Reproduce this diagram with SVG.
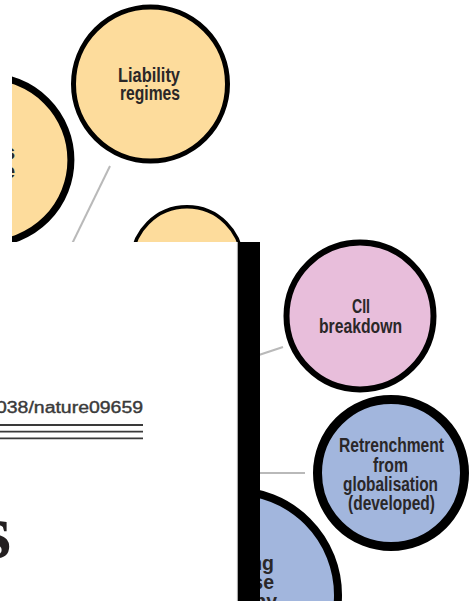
<svg xmlns="http://www.w3.org/2000/svg" width="471" height="601" viewBox="0 0 471 601">
<defs>
<clipPath id="diagClip"><rect x="12" y="0" width="459" height="601"/></clipPath>
<style>
.lbl{font-family:"Liberation Sans",Arial,sans-serif;font-size:19.5px;font-weight:bold;fill:#2a2728}
.yellow{fill:#fddc9c;stroke:#000}
.pink{fill:#e8bedb;stroke:#000}
.blue{fill:#a2b6dd;stroke:#000}
.conn{stroke:#b9b9b9;stroke-width:2;fill:none}
.rule{stroke:#3a3a3a;stroke-width:1.8}
</style>
</defs>
<rect width="471" height="601" fill="#fff"/>
<g clip-path="url(#diagClip)">
  <g id="connectors">
    <line class="conn" x1="110" y1="166" x2="69" y2="250"/>
    <line class="conn" x1="250" y1="358" x2="283" y2="347"/>
    <line class="conn" x1="250" y1="473" x2="305" y2="473"/>
  </g>
  <g id="node-left-large">
    <circle class="yellow" cx="-12.6" cy="160" r="83.5" stroke-width="7"/>
    <text class="lbl" x="15" y="159" text-anchor="end">s</text>
    <text class="lbl" x="15" y="178" text-anchor="end">e</text>
  </g>
  <g id="node-liability">
    <circle class="yellow" cx="150.5" cy="84" r="77" stroke-width="5"/>
    <text class="lbl" x="118" y="82" textLength="62" lengthAdjust="spacingAndGlyphs">Liability</text>
    <text class="lbl" x="120" y="100" textLength="60" lengthAdjust="spacingAndGlyphs">regimes</text>
  </g>
  <g id="node-yellow-small">
    <circle class="yellow" cx="187" cy="262" r="55.2" stroke-width="3.5"/>
  </g>
  <g id="node-cii">
    <circle class="pink" cx="360" cy="316" r="73.5" stroke-width="6"/>
    <text class="lbl" x="352" y="313" textLength="18" lengthAdjust="spacingAndGlyphs">CII</text>
    <text class="lbl" x="319" y="333" textLength="83" lengthAdjust="spacingAndGlyphs">breakdown</text>
  </g>
  <g id="node-retrenchment">
    <circle class="blue" cx="391" cy="473" r="73.5" stroke-width="9"/>
    <text class="lbl" x="339" y="452" textLength="105" lengthAdjust="spacingAndGlyphs">Retrenchment</text>
    <text class="lbl" x="373" y="472" textLength="35" lengthAdjust="spacingAndGlyphs">from</text>
    <text class="lbl" x="343" y="491" textLength="95" lengthAdjust="spacingAndGlyphs">globalisation</text>
    <text class="lbl" x="348" y="510" textLength="87" lengthAdjust="spacingAndGlyphs">(developed)</text>
  </g>
  <g id="node-blue-bottom">
    <circle class="blue" cx="234" cy="595" r="104" stroke-width="8"/>
    <text class="lbl" x="274" y="570" text-anchor="end">ng</text>
    <text class="lbl" x="274" y="589" text-anchor="end">se</text>
    <text class="lbl" x="277" y="608" text-anchor="end">ny</text>
  </g>
</g>
<g id="page-overlay">
  <rect x="0" y="242" width="238" height="359" fill="#fff"/>
  <text x="-4" y="413" font-family="'Liberation Sans',Arial,sans-serif" font-size="16" fill="#3a3a3a" stroke="#3a3a3a" stroke-width="0.4" textLength="147" lengthAdjust="spacingAndGlyphs">038/nature09659</text>
  <line class="rule" x1="0" y1="425" x2="143" y2="425"/>
  <line class="rule" x1="0" y1="431.7" x2="143" y2="431.7"/>
  <line class="rule" x1="0" y1="438.3" x2="143" y2="438.3"/>
  <text x="11" y="558" text-anchor="end" font-family="'Liberation Serif','Times New Roman',serif" font-weight="bold" font-size="78" fill="#231f20">s</text>
  <line x1="237.5" y1="242" x2="237.5" y2="601" stroke="#a8a8a8" stroke-width="1.2"/>
  <rect x="238" y="242" width="22" height="359" fill="#000"/>
</g>
</svg>
